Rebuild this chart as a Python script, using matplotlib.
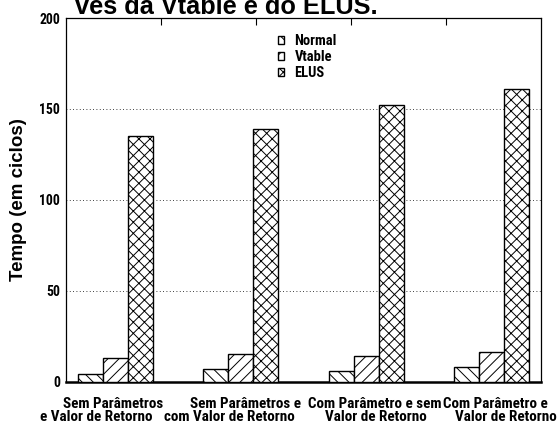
import os
import matplotlib
matplotlib.use('Agg')
import matplotlib.pyplot as plt
from matplotlib import font_manager
from matplotlib.font_manager import FontProperties
import numpy as np

# data
label_line1 = ['Sem Parâmetros', 'Sem Parâmetros e', 'Com Parâmetro e sem', 'Com Parâmetro e']
label_line2 = ['e Valor de Retorno', 'com Valor de Retorno', 'Valor de Retorno', 'Valor de Retorno']
normal = [4, 7, 6, 8]
vtable = [13, 15, 14, 16]
elus = [135, 139, 152, 161]
series_names = ['Normal', 'Vtable', 'ELUS']
yticks = [0, 50, 100, 150, 200]
caption = 'ves da Vtable e do ELUS.'


def find_narrow_bold():
    """Look for a condensed bold face (narrowest first); fall back to Liberation Sans bold."""
    prefs = ['liberationsansnarrowbold', 'arialnarrowbold', 'robotocondensedbold',
             'notosanscondensedbold', 'opensanscondbold', 'opensanscondensedbold']
    files = []
    for f in font_manager.fontManager.ttflist:
        key = os.path.basename(f.fname).lower()
        for ch in '-_ .':
            key = key.replace(ch, '')
        files.append((key, f.fname))
    for p in prefs:
        for key, path in files:
            if key.startswith(p) and 'italic' not in key:
                return FontProperties(fname=path)
    for key, path in files:
        if ('condensed' in key or 'narrow' in key) and 'bold' in key and 'italic' not in key \
                and 'oblique' not in key and 'extra' not in key and 'semi' not in key \
                and 'dejavu' not in key:
            return FontProperties(fname=path)
    for key, path in files:
        if 'condensed' in key and 'bold' in key and 'oblique' not in key:
            return FontProperties(fname=path)
    return FontProperties(family='Liberation Sans', weight='bold')


def fit_size(fig, fp, text, target_px):
    # pick a size so the text is as wide as in the reference
    r = fig.canvas.get_renderer()
    probe = fp.copy()
    probe.set_size(10)
    t = fig.text(0, 0, text, fontproperties=probe)
    wpx = t.get_window_extent(r).width
    t.remove()
    return 10 * target_px / wpx


plt.rcParams['hatch.linewidth'] = 0.7

W, H = 557, 428
fig = plt.figure(figsize=(W / 100, H / 100), dpi=100)
ax = fig.add_axes([66 / W, 1 - 381.5 / H, 475 / W, 363.5 / H])

narrow = find_narrow_bold()
cat_fp = narrow.copy()
cat_fp.set_size(fit_size(fig, narrow, 'Sem Parâmetros', 100.6))
leg_fp = narrow.copy()
leg_fp.set_size(fit_size(fig, narrow, 'Normal', 42))
tick_fp = narrow.copy()
tick_fp.set_size(fit_size(fig, narrow, '150', 21))

x = np.arange(len(normal))
w = 0.2
hatches = ['\\\\\\', '///', 'xxx']
for off, vals, hatch, name in zip([-w, 0, w], [normal, vtable, elus], hatches, series_names):
    ax.bar(x + off, vals, w, color='white', edgecolor='black', hatch=hatch,
           linewidth=1, label=name, zorder=3)

xlo, xhi = -0.392, 3.393
ax.set_xlim(xlo, xhi)
ax.set_ylim(0, 200)

# y axis
ax.set_yticks(yticks)
ax.tick_params(axis='y', length=0, pad=4.3)
for t in ax.get_yticklabels():
    t.set_fontproperties(tick_fp)
ax.yaxis.grid(True, linestyle=(0, (1, 3)), color='black', linewidth=0.6)
ax.set_axisbelow(True)

# only mirrored ticks on top, like gnuplot
ax.set_xticks([xlo + f * (xhi - xlo) for f in (0.2, 0.4, 0.6, 0.8)])
ax.tick_params(axis='x', bottom=False, labelbottom=False, top=True,
               direction='in', length=5, width=0.8)

for s in ax.spines.values():
    s.set_linewidth(0.9)
ax.spines['bottom'].set_linewidth(1.8)

ax.set_ylabel('Tempo (em ciclos)', fontsize=13.5, fontweight='bold',
              fontfamily='Liberation Sans')
ax.yaxis.set_label_coords(-0.082, 0.5)

# two-line category labels
off1 = [-0.02, 0.04, 0.07, 0.03]
off2 = [-0.15, -0.09, 0.08, 0.11]
tr = ax.get_xaxis_transform()
for i in range(len(label_line1)):
    ax.text(x[i] + off1[i], -0.0737, label_line1[i], transform=tr, ha='center',
            va='baseline', fontproperties=cat_fp)
    ax.text(x[i] + off2[i], -0.1078, label_line2[i], transform=tr, ha='center',
            va='baseline', fontproperties=cat_fp)

ax.legend(loc='upper left', bbox_to_anchor=(0.4457, 0.956), frameon=False,
          prop=leg_fp, handlelength=0.45, handleheight=0.45, handletextpad=0.7,
          labelspacing=0.15, borderpad=0, borderaxespad=0)

# caption cut off at the top of the image
fig.text(75 / W, 1 - 13.5 / H, caption, fontsize=18.3, fontweight='bold',
         fontfamily='Liberation Sans', ha='left', va='baseline')

fig.savefig('out.png', dpi=100)
